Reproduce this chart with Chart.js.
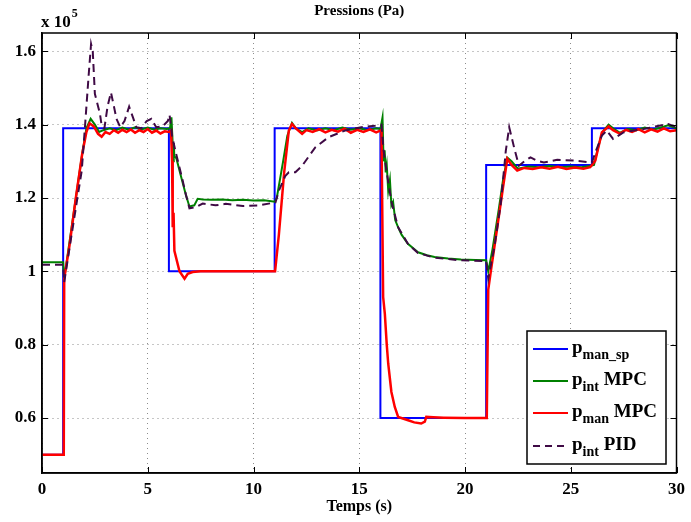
<!DOCTYPE html>
<html>
<head>
<meta charset="utf-8">
<script src="https://cdn.jsdelivr.net/npm/chart.js@4/dist/chart.umd.min.js"></script>
<style>
  html, body { margin: 0; padding: 0; background: #fff; }
  #wrap { width: 691px; height: 522px; }
</style>
</head>
<body>
<div id="wrap"><canvas id="c" width="691" height="522"></canvas></div>
<script>
// tick values (pressure in units of 1e5 Pa)
const xTickVals = [0, 5, 10, 15, 20, 25, 30];
const yTickVals = [0.6, 0.8, 1.0, 1.2, 1.4, 1.6];

// p_man_sp : set point
const tSp = [0, 1, 1, 6, 6, 11, 11, 16, 16, 21, 21, 26, 26, 30];
const pSp = [0.5, 0.5, 1.39, 1.39, 1.0, 1.0, 1.39, 1.39, 0.6, 0.6, 1.29, 1.29, 1.39, 1.39];

// p_int MPC
const tIntMpc = [0, 1.0, 1.05, 1.3, 1.6, 1.9, 2.1, 2.3, 2.5, 2.7, 2.9, 3.2, 3.5, 3.8, 4.1, 4.4, 4.7, 5.0, 5.3, 5.6, 5.9, 6.05,
  6.12, 6.17, 6.2, 6.23, 6.26, 6.34, 6.58, 6.81, 6.97, 7.2, 7.36, 7.6, 8.0, 8.5, 9.0, 9.5, 10.0, 10.5, 11.0,
  11.1, 11.4, 11.6, 11.82, 12.0, 12.3, 12.6, 13.0, 13.4, 13.8, 14.2, 14.6, 15.0, 15.4, 15.8, 16.0,
  16.1, 16.15, 16.2, 16.25, 16.3, 16.37, 16.45, 16.52, 16.6, 16.7, 16.84, 17.0, 17.3, 17.78, 18.2, 18.56, 19.2, 19.81, 20.5, 21.0,
  21.1, 21.3, 21.6, 21.8, 22.0, 22.2, 22.5, 23.0, 23.5, 24.0, 24.5, 25.0, 25.5, 25.9,
  26.1, 26.3, 26.5, 26.79, 27.0, 27.33, 27.7, 28.1, 28.5, 28.9, 29.3, 29.6, 30];
const pIntMpc = [1.025, 1.025, 0.98, 1.08, 1.2, 1.32, 1.39, 1.416, 1.40, 1.38, 1.385, 1.39, 1.385, 1.392, 1.386, 1.393, 1.387, 1.392, 1.386, 1.39, 1.388, 1.39,
  1.42, 1.36, 1.30, 1.35, 1.31, 1.311, 1.257, 1.207, 1.177, 1.18, 1.198, 1.196, 1.195, 1.196, 1.194, 1.195, 1.193, 1.194, 1.19,
  1.2, 1.30, 1.37, 1.405, 1.39, 1.38, 1.39, 1.384, 1.39, 1.385, 1.392, 1.386, 1.39, 1.385, 1.39, 1.388,
  1.42, 1.30, 1.33, 1.27, 1.29, 1.22, 1.25, 1.18, 1.19, 1.14, 1.12, 1.10, 1.075, 1.052, 1.044, 1.039, 1.035, 1.032, 1.031, 1.03,
  1.0, 1.06, 1.17, 1.25, 1.31, 1.30, 1.28, 1.286, 1.284, 1.287, 1.284, 1.286, 1.284, 1.287,
  1.29, 1.34, 1.38, 1.40, 1.39, 1.378, 1.388, 1.385, 1.392, 1.386, 1.393, 1.398, 1.39];

// p_man MPC
const tManMpc = [0, 1.03, 1.05, 1.3, 1.6, 1.9, 2.1, 2.25, 2.45, 2.65, 2.82, 3.0, 3.2, 3.4, 3.6, 3.8, 4.0, 4.2, 4.4, 4.6, 4.8, 5.0, 5.2, 5.4, 5.6, 5.8, 6.0, 6.1,
  6.15, 6.18, 6.22, 6.26, 6.5, 6.74, 6.89, 7.12, 7.5, 8.5, 9.5, 10.5, 11.02,
  11.2, 11.45, 11.67, 11.82, 12.0, 12.3, 12.5, 12.8, 13.1, 13.4, 13.7, 14.0, 14.3, 14.6, 14.9, 15.2, 15.5, 15.8, 16.05,
  16.13, 16.21, 16.3, 16.37, 16.52, 16.68, 16.84, 17.31, 17.6, 17.93, 18.1, 18.17, 18.5, 19.0, 20.0, 21.03,
  21.1, 21.22, 21.5, 21.8, 22.0, 22.2, 22.47, 22.8, 23.2, 23.6, 24.0, 24.4, 24.8, 25.2, 25.6, 25.92,
  26.16, 26.47, 26.79, 27.0, 27.33, 27.6, 27.9, 28.2, 28.5, 28.8, 29.1, 29.4, 29.7, 30];
const pManMpc = [0.5, 0.5, 0.98, 1.07, 1.2, 1.32, 1.38, 1.404, 1.395, 1.375, 1.367, 1.38, 1.375, 1.385, 1.378, 1.386, 1.38, 1.387, 1.378, 1.385, 1.38, 1.388, 1.378, 1.384, 1.376, 1.382, 1.38, 1.384,
  1.30, 1.12, 1.16, 1.056, 1.0, 0.98, 0.993, 0.998, 1.0, 1.0, 1.0, 1.0, 1.0,
  1.1, 1.27, 1.384, 1.402, 1.39, 1.375, 1.385, 1.38, 1.388, 1.379, 1.386, 1.381, 1.389, 1.378, 1.386, 1.38, 1.387, 1.379, 1.385,
  0.93, 0.884, 0.80, 0.748, 0.671, 0.63, 0.603, 0.594, 0.588, 0.585, 0.59, 0.603, 0.602, 0.601, 0.6, 0.6,
  0.95, 1.0, 1.11, 1.23, 1.307, 1.29, 1.275, 1.282, 1.279, 1.284, 1.28, 1.285, 1.279, 1.283, 1.28, 1.284,
  1.302, 1.379, 1.395, 1.385, 1.375, 1.386, 1.38, 1.388, 1.379, 1.387, 1.381, 1.39, 1.382, 1.385];

// p_int PID
const tIntPid = [0, 1.0, 1.05, 1.4, 1.88, 2.03, 2.2, 2.32, 2.4, 2.5, 2.74, 2.82, 2.95, 3.1, 3.26, 3.4, 3.52, 3.7, 3.9, 4.12, 4.3, 4.46, 4.7, 4.95, 5.17, 5.4, 5.7, 5.95, 6.03,
  6.15, 6.3, 6.6, 6.8, 6.97, 7.28, 7.6, 8.2, 8.69, 9.5, 10.26, 11.04,
  11.2, 11.5, 11.67, 11.98, 12.3, 12.92, 13.55, 14.33, 15.1, 15.74, 16.05,
  16.15, 16.3, 16.52, 16.84, 17.3, 17.78, 18.56, 19.81, 21.0,
  21.1, 21.4, 21.69, 21.93, 22.09, 22.32, 22.55, 22.8, 23.1, 23.4, 23.73, 24.36, 25.14, 26.0,
  26.2, 26.47, 26.7, 27.0, 27.49, 28.43, 29.0, 29.6, 30];
const pIntPid = [1.018, 1.018, 0.97, 1.1, 1.275, 1.393, 1.53, 1.62, 1.6, 1.484, 1.43, 1.397, 1.39, 1.45, 1.488, 1.45, 1.416, 1.393, 1.41, 1.449, 1.42, 1.393, 1.39, 1.41, 1.416, 1.393, 1.395, 1.41, 1.427,
  1.37, 1.33, 1.26, 1.21, 1.172, 1.175, 1.185, 1.18, 1.184, 1.178, 1.18, 1.188,
  1.22, 1.26, 1.27, 1.27, 1.288, 1.338, 1.366, 1.384, 1.393, 1.397, 1.40,
  1.33, 1.27, 1.19, 1.12, 1.075, 1.05, 1.037, 1.03, 1.028,
  0.98, 1.07, 1.184, 1.329, 1.393, 1.338, 1.288, 1.3, 1.311, 1.302, 1.297, 1.304, 1.302, 1.297,
  1.33, 1.37, 1.384, 1.361, 1.379, 1.388, 1.395, 1.402, 1.393];

const labels = ['man_sp', 'int', 'man', 'int'];
const suffixes = ['', ' MPC', ' MPC', ' PID'];
const colors = ['#0000ff', '#008000', '#ff0000', '#3f0a45'];

function zip(t, p) {
  return t.map((x, i) => ({ x: x, y: p[i] }));
}

const FONT = '"Liberation Serif", "Times New Roman", serif';
const PID_DASH = [8, 5];

// axes box, inward ticks, exponent label, title and the custom legend
const matlabPlugin = {
  id: 'matlab',
  afterDraw(chart) {
    const ctx = chart.ctx;
    const a = chart.chartArea;
    const xs = chart.scales.x;
    const ys = chart.scales.y;
    ctx.save();
    ctx.strokeStyle = '#000';
    ctx.lineWidth = 1.5;
    ctx.strokeRect(a.left, a.top, a.right - a.left, a.bottom - a.top);
    ctx.lineWidth = 1;
    xTickVals.forEach(v => {
      const px = Math.round(xs.getPixelForValue(v)) + 0.5;
      ctx.beginPath();
      ctx.moveTo(px, a.bottom); ctx.lineTo(px, a.bottom - 6);
      ctx.moveTo(px, a.top); ctx.lineTo(px, a.top + 6);
      ctx.stroke();
    });
    yTickVals.forEach(v => {
      const py = Math.round(ys.getPixelForValue(v)) + 0.5;
      ctx.beginPath();
      ctx.moveTo(a.left, py); ctx.lineTo(a.left + 6, py);
      ctx.moveTo(a.right, py); ctx.lineTo(a.right - 6, py);
      ctx.stroke();
    });

    ctx.fillStyle = '#000';
    ctx.textBaseline = 'alphabetic';
    ctx.textAlign = 'center';
    ctx.font = 'bold 15px ' + FONT;
    ctx.fillText('Pressions (Pa)', (a.left + a.right) / 2, 15);

    ctx.textAlign = 'left';
    ctx.font = 'bold 17px ' + FONT;
    ctx.fillText('x 10', 41, 27);
    const w = ctx.measureText('x 10').width;
    ctx.font = 'bold 12px ' + FONT;
    ctx.fillText('5', 41 + w + 1, 17);

    // legend
    const lx = 527, ly = 331, lw = 139, lh = 133;
    ctx.fillStyle = '#fff';
    ctx.fillRect(lx, ly, lw, lh);
    ctx.strokeStyle = '#000';
    ctx.lineWidth = 1.5;
    ctx.strokeRect(lx, ly, lw, lh);
    const rows = [349, 381, 413, 446];
    rows.forEach((ry, i) => {
      ctx.strokeStyle = colors[i];
      ctx.lineWidth = 2;
      ctx.setLineDash(i === 3 ? [7, 5] : []);
      ctx.beginPath();
      ctx.moveTo(533, ry); ctx.lineTo(568, ry);
      ctx.stroke();
      ctx.setLineDash([]);
      ctx.fillStyle = '#000';
      let x = 572;
      ctx.font = 'bold 19px ' + FONT;
      ctx.fillText('p', x, ry + 4);
      x += ctx.measureText('p').width;
      ctx.font = 'bold 14px ' + FONT;
      ctx.fillText(labels[i], x, ry + 10);
      x += ctx.measureText(labels[i]).width;
      if (suffixes[i]) {
        ctx.font = 'bold 19px ' + FONT;
        ctx.fillText(suffixes[i], x, ry + 4);
      }
    });
    ctx.restore();
  }
};

const gridStyle = {
  color: '#8c8c8c',
  lineWidth: 1,
  drawTicks: false
};

const chart = new Chart(document.getElementById('c').getContext('2d'), {
  type: 'line',
  data: {
    datasets: [
      { data: zip(tSp, pSp), borderColor: colors[0], borderWidth: 2, order: 4 },
      { data: zip(tIntMpc, pIntMpc), borderColor: colors[1], borderWidth: 2, order: 3 },
      { data: zip(tManMpc, pManMpc), borderColor: colors[2], borderWidth: 2.5, order: 2 },
      { data: zip(tIntPid, pIntPid), borderColor: colors[3], borderWidth: 2, borderDash: PID_DASH, order: 1 }
    ]
  },
  options: {
    responsive: false,
    animation: false,
    events: [],
    elements: {
      point: { radius: 0 },
      line: { tension: 0, fill: false }
    },
    layout: { padding: { top: 33, right: 11, left: 0, bottom: 0 } },
    plugins: {
      legend: { display: false },
      tooltip: { enabled: false }
    },
    scales: {
      x: {
        type: 'linear',
        min: 0,
        max: 30,
        afterBuildTicks: s => { s.ticks = xTickVals.map(v => ({ value: v })); },
        afterFit: s => { s.height = 49; },
        grid: gridStyle,
        border: { display: true, color: '#000', width: 1.5, dash: [1, 4] },
        ticks: {
          padding: 6,
          color: '#000',
          font: { family: FONT, size: 17, weight: 'bold' }
        },
        title: {
          display: true,
          text: 'Temps (s)',
          color: '#000',
          font: { family: FONT, size: 16, weight: 'bold' },
          padding: { top: 0, bottom: 6 }
        }
      },
      y: {
        type: 'linear',
        min: 0.45,
        max: 1.65,
        afterBuildTicks: s => { s.ticks = yTickVals.map(v => ({ value: v })); },
        afterFit: s => { s.width = 42; },
        grid: gridStyle,
        border: { display: true, color: '#000', width: 1.5, dash: [1, 4] },
        ticks: {
          padding: 6,
          color: '#000',
          font: { family: FONT, size: 17, weight: 'bold' },
          callback: v => String(+v.toFixed(1))
        }
      }
    }
  },
  plugins: [matlabPlugin]
});
</script>
</body>
</html>
